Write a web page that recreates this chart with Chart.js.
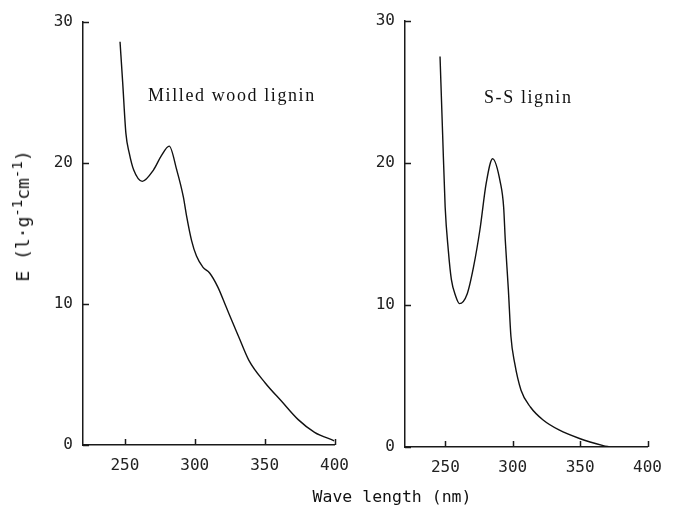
<!DOCTYPE html>
<html>
<head>
<meta charset="utf-8">
<script src="https://cdn.jsdelivr.net/npm/chart.js@4"></script>
<style>
  body { margin: 0; background: #fff; }
  #wrap { position: relative; width: 673px; height: 509px; overflow: hidden; }
  canvas { position: absolute; top: 0; }
  .lbl { position: absolute; color: #111; white-space: nowrap; }
  .panel-name { font-family: "Liberation Serif", serif; font-size: 18px; letter-spacing: 1.6px; }
  .mono { font-family: "DejaVu Sans Mono", monospace; }
</style>
</head>
<body>
<div id="wrap">
  <canvas id="left" width="360" height="509" style="left:0"></canvas>
  <canvas id="right" width="311" height="509" style="left:362px"></canvas>
  <div class="lbl panel-name" style="left:148px; top:85px;">Milled wood lignin</div>
  <div class="lbl panel-name" style="left:484px; top:87px;">S-S lignin</div>
  <div class="lbl mono" style="left:392px; top:496px; font-size:16.5px; transform:translate(-50%,-50%);">Wave length (nm)</div>
  <div class="lbl mono" style="left:21px; top:216px; font-size:18px; transform:translate(-50%,-50%) rotate(-90deg);">E (l&middot;g<sup style="font-size:14px">-1</sup>cm<sup style="font-size:14px">-1</sup>)</div>
</div>
<script>
"use strict";

// Milled wood lignin
const mwlWave = [246.5, 248.4, 250.7, 253.1, 256.3, 262.4, 270.4, 276, 281.7, 287.1, 291.8, 294.2, 297.7, 301.2, 305.9, 310.6, 316.5, 322.4, 328.3, 331.7, 338.7, 350.4, 362.1, 374, 385.7, 399.8];
const mwlE = [28.6, 25.7, 22.1, 20.7, 19.5, 18.7, 19.5, 20.5, 21.2, 19.5, 17.6, 16.2, 14.5, 13.4, 12.6, 12.2, 11.2, 9.8, 8.4, 7.6, 6.0, 4.4, 3.1, 1.8, 0.9, 0.3];

// S-S lignin, right panel
const ssWave = [246, 247.9, 249.8, 252.1, 254.4, 257.7, 260.4, 266.2, 270.9, 275.6, 280.3, 285, 290.8, 293.2, 294.4, 296.7, 298.6, 301.4, 306.1, 313.2, 322.5, 334.3, 349.5, 367.1, 371.8];
const ssE = [27.5, 22.1, 16.9, 13.9, 11.8, 10.6, 10.1, 10.8, 12.7, 15.3, 18.6, 20.3, 18.6, 16.9, 14.6, 11.1, 7.8, 5.9, 4.0, 2.8, 1.9, 1.2, 0.6, 0.1, 0.0];

const xTicks = [250, 300, 350, 400];
const yTicks = [0, 10, 20, 30];

const axisColor = "#1a1a1a";
const tickFont = { family: "DejaVu Sans Mono", size: 16 };

// ticks in the original point inward, so draw them ourselves
const innerTicks = {
  id: "innerTicks",
  afterDraw(chart) {
    const { ctx } = chart;
    const xs = chart.scales.x;
    const ys = chart.scales.y;
    ctx.save();
    ctx.strokeStyle = axisColor;
    ctx.lineWidth = 1.5;
    ctx.beginPath();
    xTicks.forEach((v) => {
      const px = Math.round(xs.getPixelForValue(v)) + 0.5;
      ctx.moveTo(px, ys.bottom);
      ctx.lineTo(px, ys.bottom - 6);
    });
    yTicks.forEach((v) => {
      const py = Math.round(ys.getPixelForValue(v)) + 0.5;
      ctx.moveTo(xs.left, py);
      ctx.lineTo(xs.left + 6, py);
    });
    ctx.stroke();
    ctx.restore();
  },
};

const makeChart = (el, waves, values, yWidth, xHeight, pad) => {
  new Chart(document.getElementById(el), {
    type: "line",
    data: {
      datasets: [
        {
          data: waves.map((w, i) => ({ x: w, y: values[i] })),
          borderColor: "#111",
          borderWidth: 1.4,
          pointRadius: 0,
          fill: false,
          cubicInterpolationMode: "monotone",
        },
      ],
    },
    options: {
      responsive: false,
      animation: false,
      layout: { padding: pad },
      plugins: { legend: { display: false }, tooltip: { enabled: false } },
      scales: {
        x: {
          type: "linear",
          min: 220,
          max: 400,
          afterBuildTicks: (s) => { s.ticks = xTicks.map((v) => ({ value: v })); },
          afterFit: (s) => { s.height = xHeight; },
          grid: { display: false, drawTicks: false },
          border: { display: true, color: axisColor, width: 1.5 },
          ticks: { font: tickFont, color: "#222", padding: 11, maxRotation: 0 },
        },
        y: {
          min: 0,
          max: 30,
          afterBuildTicks: (s) => { s.ticks = yTicks.map((v) => ({ value: v })); },
          afterFit: (s) => { s.width = yWidth; },
          grid: { display: false, drawTicks: false },
          border: { display: true, color: axisColor, width: 1.5 },
          ticks: { font: tickFont, color: "#222", padding: 10 },
        },
      },
    },
    plugins: [innerTicks],
  });
};

makeChart("left", mwlWave, mwlE, 83, 64, { left: 0, top: 22, right: 22, bottom: 0 });
makeChart("right", ssWave, ssE, 43, 62, { left: 0, top: 21, right: 14, bottom: 0 });
</script>
</body>
</html>
